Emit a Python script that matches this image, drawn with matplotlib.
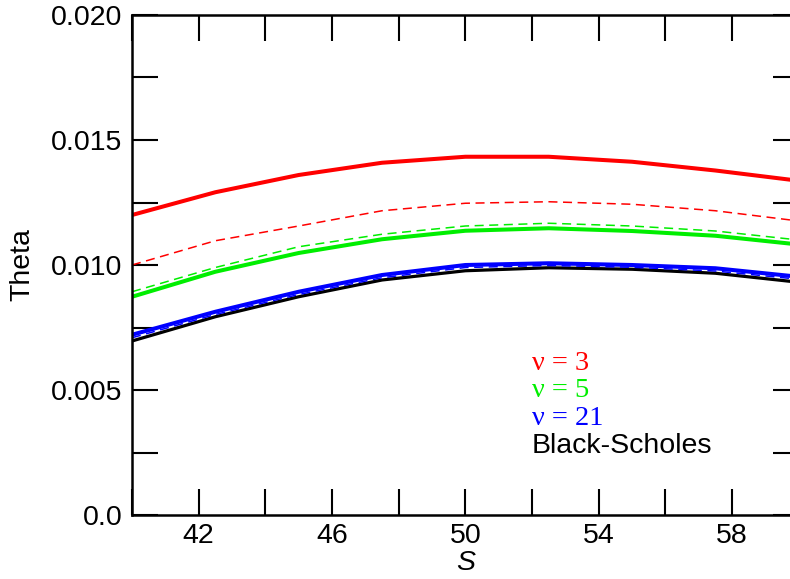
import matplotlib
matplotlib.use("Agg")
import matplotlib.pyplot as plt
from matplotlib.ticker import MultipleLocator, FixedLocator, FixedFormatter

S = [40, 42.5, 45, 47.5, 50, 52.5, 55, 57.5, 60]

nu3_solid = [0.01200, 0.01291, 0.01360, 0.01409, 0.01433, 0.01433, 0.01413, 0.01378, 0.01337]
nu3_dash = [0.01000, 0.01097, 0.01156, 0.01217, 0.01247, 0.01253, 0.01243, 0.01217, 0.01176]
nu5_solid = [0.00873, 0.00973, 0.01048, 0.01103, 0.01137, 0.01147, 0.01136, 0.01117, 0.01082]
nu5_dash = [0.00893, 0.00990, 0.01073, 0.01123, 0.01156, 0.01167, 0.01156, 0.01136, 0.01100]
nu21_solid = [0.00721, 0.00813, 0.00893, 0.00960, 0.01000, 0.01007, 0.01000, 0.00987, 0.00953]
nu21_dash = [0.00709, 0.00802, 0.00882, 0.00949, 0.00990, 0.00998, 0.00991, 0.00976, 0.00943]
bs_solid = [0.00696, 0.00793, 0.00873, 0.00940, 0.00977, 0.00989, 0.00983, 0.00967, 0.00931]

x_tick_labels = ["42", "46", "50", "54", "58"]
y_tick_labels = ["0.0", "0.005", "0.010", "0.015", "0.020"]
legend_labels = ["\u03bd = 3", "\u03bd = 5", "\u03bd = 21", "Black-Scholes"]

plt.rcParams['font.family'] = ['Liberation Sans', 'DejaVu Sans']
plt.rcParams['lines.scale_dashes'] = False

fig = plt.figure(figsize=(7.9, 5.79), dpi=100)
ax = fig.add_axes([132/790, 64/579, (798.7-132)/790, 500/579])

dash = (6.5, 4)
ax.plot(S, nu3_solid, color='#ff0000', lw=2.9)
ax.plot(S, nu3_dash, color='#ff0000', lw=1.1, dashes=dash)
ax.plot(S, nu5_solid, color='#00ee00', lw=2.9)
ax.plot(S, nu5_dash, color='#00ee00', lw=1.1, dashes=dash)
ax.plot(S, bs_solid, color='black', lw=2.3)
ax.plot(S, nu21_solid, color='#0000ff', lw=2.9)
ax.plot(S, nu21_dash, color='#0000ff', lw=1.1, dashes=dash)

ax.set_xlim(40, 60)
ax.set_ylim(0, 0.020)

ax.xaxis.set_major_locator(FixedLocator([42, 46, 50, 54, 58]))
ax.xaxis.set_major_formatter(FixedFormatter(x_tick_labels))
ax.xaxis.set_minor_locator(FixedLocator([40, 44, 48, 52, 56, 60]))
ax.yaxis.set_major_locator(FixedLocator([0, 0.005, 0.010, 0.015, 0.020]))
ax.yaxis.set_major_formatter(FixedFormatter(y_tick_labels))
ax.yaxis.set_minor_locator(MultipleLocator(0.0025))

ax.tick_params(which='both', direction='in', length=18.7, width=1.5,
               top=True, right=True, labelsize=20.5, colors='black')
ax.tick_params(axis='x', which='major', pad=6)
ax.tick_params(axis='y', which='major', pad=7)

for sp in ax.spines.values():
    sp.set_linewidth(1.8)

ax.set_ylabel('Theta', fontsize=20.5, va='center')
ax.yaxis.set_label_coords(-0.164, 0.5)
ax.set_xlabel('S', fontsize=20.5, style='italic', va='center')
ax.xaxis.set_label_coords(0.5, -0.096)

colors = ['#ff0000', '#00ee00', '#0000ff', 'black']
ys = [0.29, 0.2366, 0.18, 0.1246]
for lab, c, y in zip(legend_labels, colors, ys):
    fam = ['Liberation Serif', 'DejaVu Serif'] if lab.startswith('\u03bd') else ['Liberation Sans', 'DejaVu Sans']
    fs = 20.5
    ax.text(0.6, y, lab, transform=ax.transAxes, color=c, fontsize=fs,
            family=fam, ha='left', va='baseline')

fig.savefig('out.png', dpi=100)
